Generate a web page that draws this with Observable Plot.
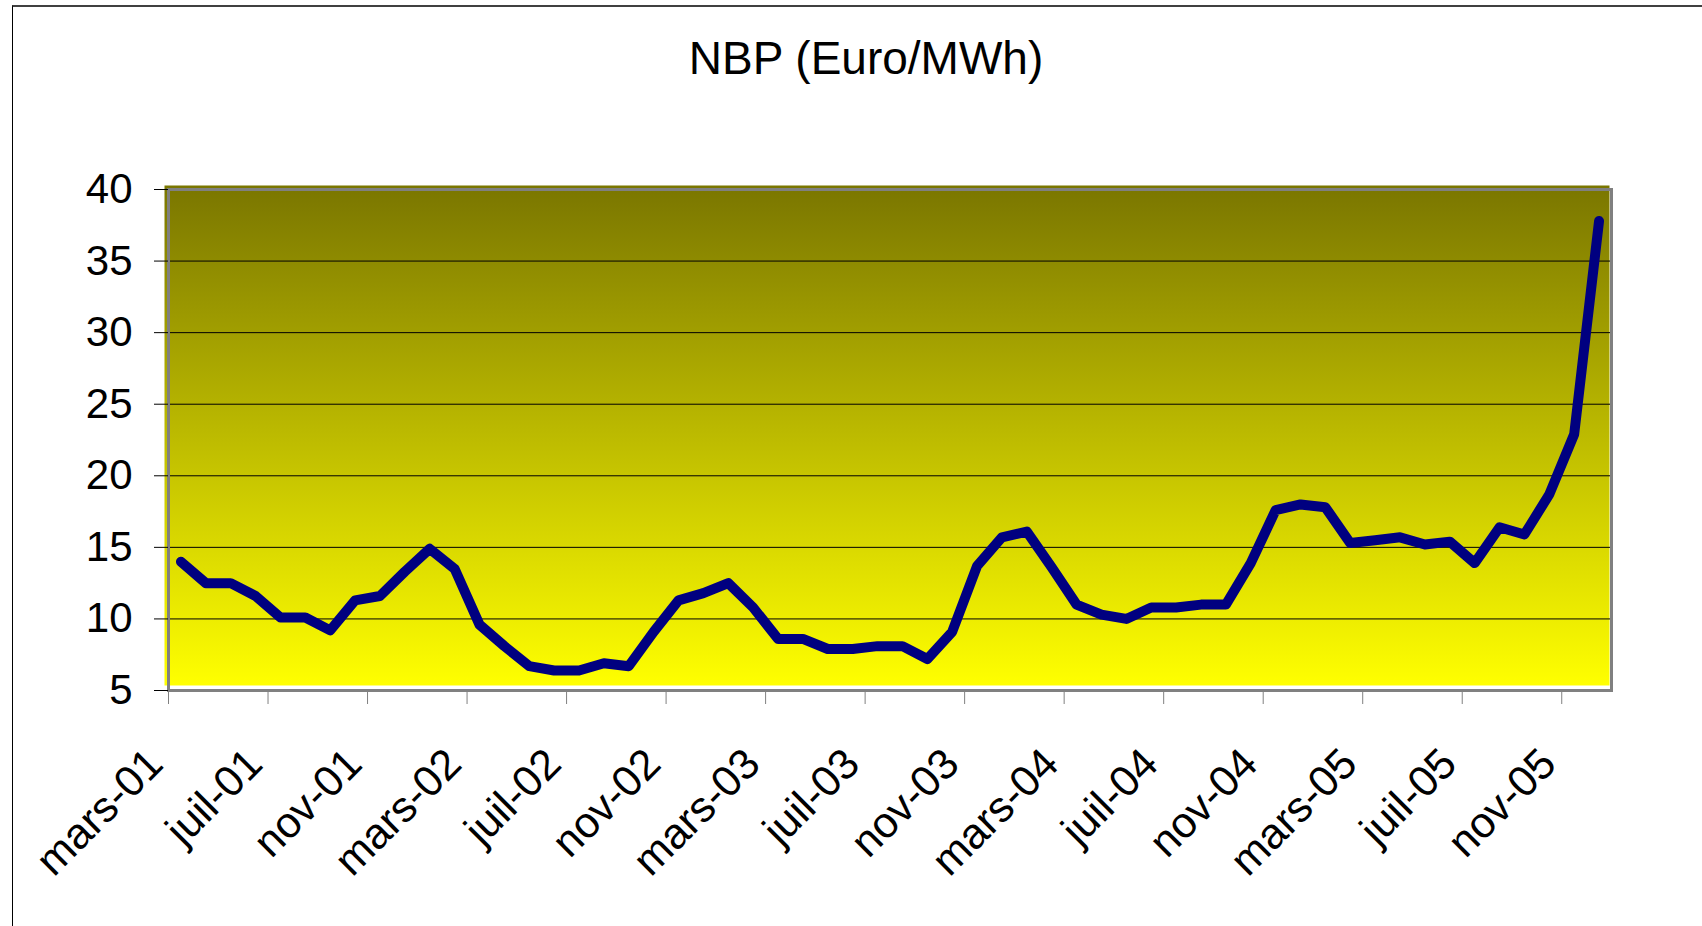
<!DOCTYPE html>
<html>
<head>
<meta charset="utf-8">
<script src="https://cdn.jsdelivr.net/npm/d3@7"></script>
<script src="https://cdn.jsdelivr.net/npm/@observablehq/plot@0.6"></script>
<style>
  html, body { margin: 0; padding: 0; background: #fff; }
  #wrap { position: relative; width: 1702px; height: 926px; overflow: hidden; font-family: "Liberation Sans", Arial, sans-serif; }
  #border { position: absolute; left: 12px; top: 5px; width: 1750px; height: 1000px; border-top: 2px solid #404040; border-left: 1.5px solid #000; box-sizing: border-box; }
  #title { position: absolute; left: 466px; top: 35px; width: 800px; text-align: center; font-size: 46px; line-height: 46px; color: #000; }
  #chart { position: absolute; left: 0; top: 0; }
</style>
</head>
<body>
<div id="wrap">
  <div id="border"></div>
  <div id="chart"></div>
  <div id="title">NBP (Euro/MWh)</div>
</div>
<script>
// Monthly categories (mars-01 .. déc-05)
const months = [
  "mars-01","avr-01","mai-01","juin-01","juil-01","août-01","sept-01","oct-01","nov-01","déc-01",
  "janv-02","févr-02","mars-02","avr-02","mai-02","juin-02","juil-02","août-02","sept-02","oct-02","nov-02","déc-02",
  "janv-03","févr-03","mars-03","avr-03","mai-03","juin-03","juil-03","août-03","sept-03","oct-03","nov-03","déc-03",
  "janv-04","févr-04","mars-04","avr-04","mai-04","juin-04","juil-04","août-04","sept-04","oct-04","nov-04","déc-04",
  "janv-05","févr-05","mars-05","avr-05","mai-05","juin-05","juil-05","août-05","sept-05","oct-05","nov-05","déc-05"
];
// NBP price, Euro/MWh
const nbp = [
  14.0, 12.5, 12.5, 11.6, 10.1, 10.1, 9.2, 11.3, 11.6, 13.3,
  14.9, 13.5, 9.6, 8.1, 6.7, 6.4, 6.4, 6.9, 6.7, 9.1, 11.3, 11.8,
  12.5, 10.8, 8.6, 8.6, 7.9, 7.9, 8.1, 8.1, 7.2, 9.1, 13.7, 15.7,
  16.1, 13.6, 11.0, 10.3, 10.0, 10.8, 10.8, 11.0, 11.0, 13.9, 17.6, 18.0,
  17.8, 15.3, 15.5, 15.7, 15.2, 15.4, 13.9, 16.4, 15.9, 18.7, 22.9, 37.8
];
const tickLabels = ["mars-01","juil-01","nov-01","mars-02","juil-02","nov-02","mars-03","juil-03","nov-03","mars-04","juil-04","nov-04","mars-05","juil-05","nov-05"];
const yTicks = [5, 10, 15, 20, 25, 30, 35, 40];
const gridValues = [10, 15, 20, 25, 30, 35];

const data = nbp.map((v, i) => ({month: months[i], idx: i, value: v}));
const tickIdx = tickLabels.map(l => months.indexOf(l));

const gradientDefs = () => {
  const defs = d3.create("svg:defs");
  const g = defs.append("linearGradient").attr("id", "nbpGrad").attr("x1", 0).attr("y1", 0).attr("x2", 0).attr("y2", 1);
  g.append("stop").attr("offset", "0%").attr("stop-color", "#7a7600");
  g.append("stop").attr("offset", "100%").attr("stop-color", "#ffff00");
  return defs.node();
};

const chart = Plot.plot({
  width: 1702,
  height: 926,
  marginTop: 189,
  marginBottom: 236,
  marginLeft: 168,
  marginRight: 91,
  style: {fontFamily: "'Liberation Sans', Arial, sans-serif", background: "transparent", overflow: "visible", color: "#000"},
  x: {type: "linear", domain: [0, months.length]},
  y: {type: "linear", domain: [5, 40]},
  marks: [
    gradientDefs,
    Plot.frame({fill: "url(#nbpGrad)", insetLeft: -4, insetTop: -4, insetRight: 2, insetBottom: 5}),
    Plot.gridY(gridValues, {stroke: "#000", strokeOpacity: 1, strokeWidth: 1}),
    Plot.frame({stroke: "#808080", strokeWidth: 3}),
    Plot.axisY(yTicks, {tickSize: 14, tickPadding: 22, fontSize: 42, stroke: "#000", label: null}),
    // tick marks at category boundaries
    Plot.axisX(tickIdx, {tickSize: 14, stroke: "#808080", label: null, tickFormat: () => ""}),
    // rotated category labels
    Plot.axisX(tickIdx, {
      tickSize: 0, tickRotate: -45, tickPadding: 66, dx: -13, fontSize: 43, label: null,
      tickFormat: (i) => months[i]
    }),
    Plot.lineY(data, {
      x: d => d.idx + 0.5, y: "value",
      stroke: "#000080", strokeWidth: 10, strokeLinecap: "round", strokeLinejoin: "round"
    })
  ]
});
document.getElementById("chart").appendChild(chart);
</script>
</body>
</html>
